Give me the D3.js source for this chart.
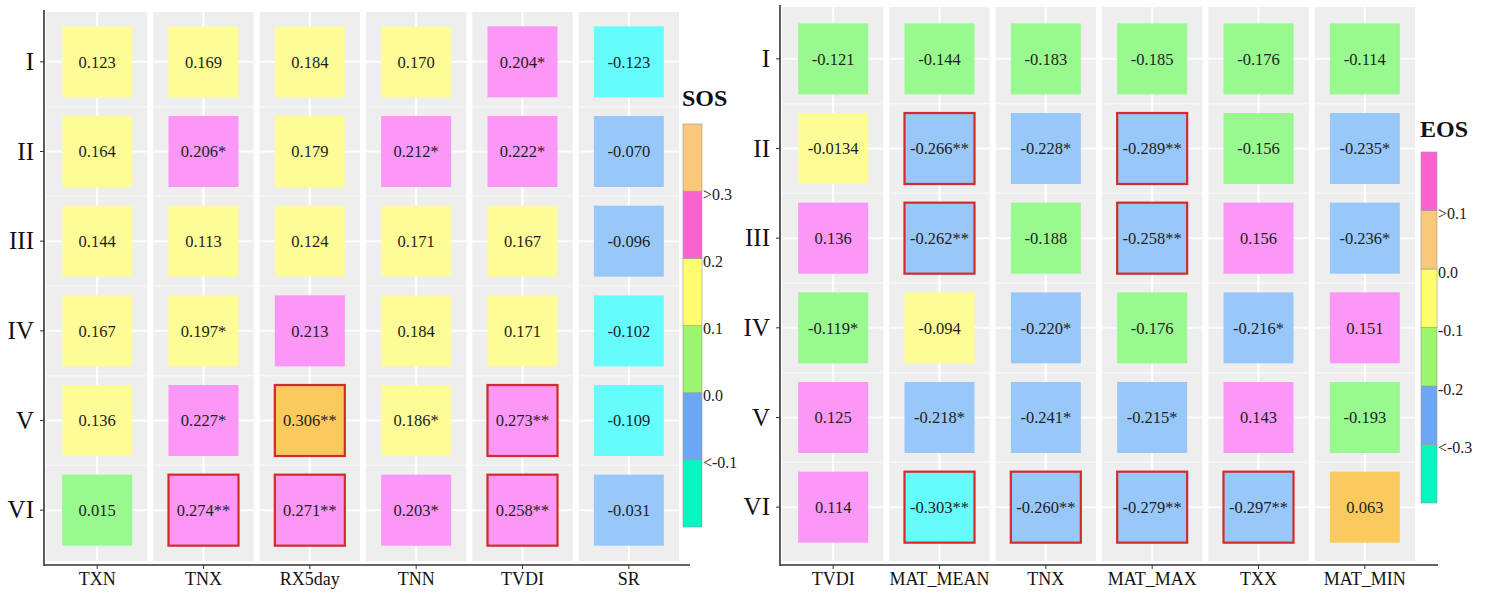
<!DOCTYPE html>
<html><head><meta charset="utf-8">
<script src="https://cdn.jsdelivr.net/npm/d3@7"></script>
<style>body{margin:0;background:#fff} svg{display:block}</style>
</head><body>
<svg id="chart" width="1486" height="593"></svg>
<script>
// ---------- DATA ----------
const rows = ["I","II","III","IV","V","VI"];

// SOS panel (left): one array per variable, rows I..VI ("*" p<0.05, "**" p<0.01)
const sosVars   = ["TXN","TNX","RX5day","TNN","TVDI","SR"];
const sosTXN    = ["0.123","0.164","0.144","0.167","0.136","0.015"];
const sosTNX    = ["0.169","0.206*","0.113","0.197*","0.227*","0.274**"];
const sosRX5day = ["0.184","0.179","0.124","0.213","0.306**","0.271**"];
const sosTNN    = ["0.170","0.212*","0.171","0.184","0.186*","0.203*"];
const sosTVDI   = ["0.204*","0.222*","0.167","0.171","0.273**","0.258**"];
const sosSR     = ["-0.123","-0.070","-0.096","-0.102","-0.109","-0.031"];

// EOS panel (right)
const eosVars    = ["TVDI","MAT_MEAN","TNX","MAT_MAX","TXX","MAT_MIN"];
const eosTVDI    = ["-0.121","-0.0134","0.136","-0.119*","0.125","0.114"];
const eosMATMEAN = ["-0.144","-0.266**","-0.262**","-0.094","-0.218*","-0.303**"];
const eosTNX     = ["-0.183","-0.228*","-0.188","-0.220*","-0.241*","-0.260**"];
const eosMATMAX  = ["-0.185","-0.289**","-0.258**","-0.176","-0.215*","-0.279**"];
const eosTXX     = ["-0.176","-0.156","0.156","-0.216*","0.143","-0.297**"];
const eosMATMIN  = ["-0.114","-0.235*","-0.236*","0.151","-0.193","0.063"];

// colour classes
const sosBreaks = [-0.1, 0, 0.1, 0.2, 0.3];
const eosBreaks = [-0.3, -0.2, -0.1, 0, 0.1];
const sosLegendLabels = ["<-0.1","0.0","0.1","0.2",">0.3"];
const eosLegendLabels = ["<-0.3","-0.2","-0.1","0.0",">0.1"];

// ---------- STYLE ----------
const C = {cyan:"#66fcfc", blue:"#98c8f9", green:"#98f98f", yellow:"#fdfc97", pink:"#fb97f7", orange:"#fbca5c"};
const L = {teal:"#08f4c0", blue:"#6ca7f5", green:"#9bf56d", yellow:"#fdfd6e", pink:"#fb63d2", orange:"#f9c87b"};
const sosTileColors = [C.cyan, C.blue, C.green, C.yellow, C.pink, C.orange];
const eosTileColors = [C.cyan, C.blue, C.green, C.yellow, C.orange, C.pink];
const sosLegendColors = [L.teal, L.blue, L.green, L.yellow, L.pink, L.orange];
const eosLegendColors = [L.teal, L.blue, L.green, L.yellow, L.orange, L.pink];
const FONT = "'Liberation Serif','Times New Roman',serif";

const svg = d3.select("#chart");

function panel(cfg) {
  const cols = cfg.cols;
  const x = d3.scaleBand().domain(cfg.vars).range(cfg.xRange);
  const y = d3.scaleBand().domain(rows).range(cfg.yRange);
  const color = d3.scaleThreshold().domain(cfg.breaks).range(cfg.tileColors);
  const g = svg.append("g");
  const bw = x.bandwidth(), bh = y.bandwidth();

  // grey column strips
  cfg.vars.forEach((v, i) => {
    const x0 = x(v) + (i === 0 ? 2 : 3);
    const w = bw - (i === 0 ? 5 : 6);
    g.append("rect").attr("x", x0).attr("y", cfg.bgTop).attr("width", w)
      .attr("height", cfg.bgBottom - cfg.bgTop).attr("fill", "#eeeeee");
    rows.forEach((r, j) => {
      if (j > 0) g.append("line").attr("x1", x0).attr("x2", x0 + w)
        .attr("y1", y(r)).attr("y2", y(r)).attr("stroke", "#f6f6f6").attr("stroke-width", 1.5);
      g.append("line").attr("x1", x0).attr("x2", x0 + w)
        .attr("y1", y(r) + bh / 2).attr("y2", y(r) + bh / 2).attr("stroke", "#f9fbfd").attr("stroke-width", 2);
    });
    g.append("line").attr("x1", x(v) + bw / 2).attr("x2", x(v) + bw / 2)
      .attr("y1", cfg.bgTop).attr("y2", cfg.bgBottom).attr("stroke", "#fff").attr("stroke-width", 2);
  });

  // tiles
  const cells = [];
  cfg.vars.forEach((v, i) => cols[i].forEach((s, j) => {
    cells.push({v, r: rows[j], label: s, value: parseFloat(s), sig: (s.match(/\*/g) || []).length});
  }));
  const tw = 70, th = 71;
  const cg = g.selectAll("g.cell").data(cells).join("g").attr("class", "cell")
    .attr("transform", d => `translate(${x(d.v) + bw / 2},${y(d.r) + bh / 2})`);
  cg.append("rect").attr("x", -tw / 2).attr("y", -th / 2).attr("width", tw).attr("height", th)
    .attr("fill", d => color(d.value))
    .attr("stroke", d => d.sig >= 2 ? "#d42a2a" : "none")
    .attr("stroke-width", 2.2);
  cg.append("text").attr("text-anchor", "middle").attr("dy", "0.35em")
    .style("font-family", FONT).style("font-size", "16.5px").attr("fill", "#1e1e1e")
    .text(d => d.label);

  // axes
  const ya = g.append("g").attr("transform", `translate(${cfg.xRange[0]},0)`)
    .call(d3.axisLeft(y).tickSize(4).tickPadding(6).tickSizeOuter(0));
  ya.select(".domain").remove();
  ya.selectAll("line").attr("stroke", "#333");
  ya.selectAll("text").style("font-family", FONT).style("font-size", "25px").attr("fill", "#111");

  const xa = g.append("g").attr("transform", `translate(0,${cfg.axisBottom})`)
    .call(d3.axisBottom(x).tickSize(4).tickPadding(3).tickSizeOuter(0));
  xa.select(".domain").remove();
  xa.selectAll("line").attr("stroke", "#333");
  xa.selectAll("text").style("font-family", FONT).style("font-size", "18px").attr("fill", "#111");

  g.append("line").attr("x1", cfg.xRange[0]).attr("x2", cfg.xRange[0])
    .attr("y1", cfg.axisTop).attr("y2", cfg.axisBottom + 1).attr("stroke", "#333").attr("stroke-width", 1.6);
  g.append("line").attr("x1", cfg.xRange[0]).attr("x2", cfg.axisRight)
    .attr("y1", cfg.axisBottom).attr("y2", cfg.axisBottom).attr("stroke", "#333").attr("stroke-width", 1.6);

  // legend
  const lg = svg.append("g");
  const ly = d3.scaleLinear().domain([0, 6]).range([cfg.legend.bottom, cfg.legend.top]);
  cfg.legend.colors.forEach((c, k) => {
    lg.append("rect").attr("x", cfg.legend.x).attr("y", ly(k + 1)).attr("width", cfg.legend.w)
      .attr("height", ly(k) - ly(k + 1)).attr("fill", c).attr("stroke", "#9a9a9a").attr("stroke-width", 0.6);
  });
  cfg.legend.labels.forEach((t, k) => {
    lg.append("text").attr("x", cfg.legend.x + cfg.legend.w + 1).attr("y", ly(k + 1) + 3).attr("dy", "0.35em")
      .style("font-family", FONT).style("font-size", "16px").attr("fill", "#222").text(t);
  });
  lg.append("text").attr("x", cfg.legend.x - 1).attr("y", cfg.legend.titleY)
    .style("font-family", FONT).style("font-size", "24px").style("font-weight", "bold").attr("fill", "#111")
    .text(cfg.legend.title);
}

panel({
  vars: sosVars, cols: [sosTXN, sosTNX, sosRX5day, sosTNN, sosTVDI, sosSR],
  xRange: [44, 682], yRange: [17, 555], bgTop: 12, bgBottom: 561,
  axisTop: 10, axisBottom: 565, axisRight: 690,
  breaks: sosBreaks, tileColors: sosTileColors,
  legend: {x: 683, w: 19, top: 124, bottom: 527, colors: sosLegendColors, labels: sosLegendLabels, title: "SOS", titleY: 106}
});
panel({
  vars: eosVars, cols: [eosTVDI, eosMATMEAN, eosTNX, eosMATMAX, eosTXX, eosMATMIN],
  xRange: [780, 1418], yRange: [14, 552], bgTop: 7, bgBottom: 561,
  axisTop: 5, axisBottom: 565, axisRight: 1438,
  breaks: eosBreaks, tileColors: eosTileColors,
  legend: {x: 1421, w: 16, top: 152, bottom: 503, colors: eosLegendColors, labels: eosLegendLabels, title: "EOS", titleY: 137}
});
</script>
</body></html>
